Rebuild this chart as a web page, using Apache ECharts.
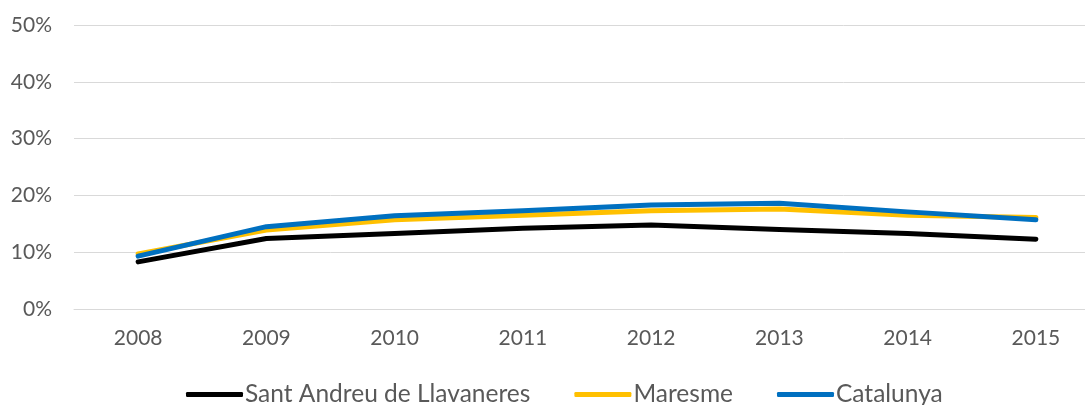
<!DOCTYPE html>
<html>
<head>
<meta charset="utf-8">
<script src="https://cdn.jsdelivr.net/npm/echarts@6/dist/echarts.min.js"></script>
<style>
  html, body { margin: 0; padding: 0; background: #ffffff; overflow: hidden; }
  #chart { width: 1100px; height: 405px; }
</style>
</head>
<body>
<div id="chart"></div>
<script>
// Years on the horizontal axis
const years = ['2008', '2009', '2010', '2011', '2012', '2013', '2014', '2015'];

// Share per year (%)
const santAndreu = [8.3, 12.4, 13.3, 14.2, 14.8, 14.0, 13.3, 12.3];
const maresme    = [9.7, 13.9, 15.7, 16.5, 17.3, 17.6, 16.5, 16.1];
const catalunya  = [9.3, 14.5, 16.4, 17.3, 18.3, 18.6, 17.1, 15.7];

const seriesNames = ['Sant Andreu de Llavaneres', 'Maresme', 'Catalunya'];
const seriesColors = ['#000000', '#FFC000', '#0070C0'];
const seriesData = [santAndreu, maresme, catalunya];

const FONT = 'Lato, "Open Sans", sans-serif';
const TEXT = '#595959';

const chart = echarts.init(document.getElementById('chart'), null, { renderer: 'canvas' });

chart.setOption({
  animation: false,
  backgroundColor: '#ffffff',
  grid: { left: 74, top: 25, right: 0, height: 284, containLabel: false },
  xAxis: {
    type: 'category',
    data: years,
    boundaryGap: true,
    axisLine: { show: true, lineStyle: { color: '#d9d9d9', width: 1 } },
    axisTick: { show: false },
    axisLabel: { color: TEXT, fontFamily: FONT, fontSize: 21, margin: 19 },
    splitLine: { show: false }
  },
  yAxis: {
    type: 'value',
    min: 0,
    max: 50,
    interval: 10,
    axisLine: { show: false },
    axisTick: { show: false },
    axisLabel: { color: TEXT, fontFamily: FONT, fontSize: 21, margin: 22, formatter: '{value}%' },
    splitLine: { lineStyle: { color: '#d9d9d9', width: 1 } }
  },
  legend: {
    left: 186,
    top: 382,
    padding: 0,
    itemWidth: 57,
    itemHeight: 5,
    itemGap: 44,
    icon: 'roundRect',
    textStyle: { color: TEXT, fontFamily: FONT, fontSize: 24.5, padding: [0, 0, 0, -3] },
    data: seriesNames
  },
  series: seriesNames.map((name, i) => ({
    name: name,
    type: 'line',
    data: seriesData[i],
    symbol: 'none',
    color: seriesColors[i],
    lineStyle: { color: seriesColors[i], width: 5, cap: 'round', join: 'round' },
    z: 2 + i
  }))
});
</script>
</body>
</html>
